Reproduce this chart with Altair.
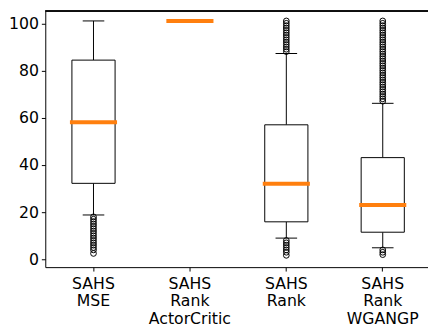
import altair as alt
import pandas as pd

cats = ["SAHS MSE", "SAHS Rank ActorCritic", "SAHS Rank", "SAHS Rank WGANGP"]
q1 = [32.2, 101, 15.9, 11.5]
med = [58.1, 101, 32.0, 23.0]
q3 = [84.4, 101, 57.0, 43.1]
lo = [18.8, 101, 9.0, 4.9]
hi = [101, 101, 87.2, 66.1]

out_mse = [2.5, 4, 5, 6, 7, 8, 9, 10, 11, 12, 13, 14, 15, 16, 17, 18]
out_rank = [1.7, 3, 4, 5, 6, 7, 8, 88, 89, 90, 91, 92, 93, 94, 95, 96, 97, 98, 99, 100, 101]
out_wgan = [2, 3, 4] + list(range(67, 102))

box = pd.DataFrame(dict(cat=cats, q1=q1, med=med, q3=q3, lo=lo, hi=hi))
outs = pd.DataFrame(dict(
    cat=[cats[0]] * len(out_mse) + [cats[2]] * len(out_rank) + [cats[3]] * len(out_wgan),
    v=out_mse + out_rank + out_wgan,
))

W, H = 390, 261
xenc = alt.X(
    "cat:N", sort=cats,
    scale=alt.Scale(range=[0, 393], paddingInner=0, paddingOuter=0),
    axis=alt.Axis(title=None, labelAngle=0, labelExpr="split(datum.label, ' ')",
                  labelLineHeight=17.5, labelPadding=5, tickSize=4,
                  labelBaseline="top"),
)
yscale = alt.Scale(domain=[-3.3, 105.2], nice=False, zero=False)
yaxis = alt.Axis(title=None, values=[0, 20, 40, 60, 80, 100], tickSize=4, labelPadding=3)

base = alt.Chart(box)
wlo = base.mark_rule(color="black", strokeWidth=1).encode(
    x=xenc, y=alt.Y("lo:Q", scale=yscale, axis=yaxis), y2="q1:Q")
whi = base.mark_rule(color="black", strokeWidth=1).encode(
    x=xenc, y=alt.Y("q3:Q", scale=yscale, axis=yaxis), y2="hi:Q")
rect = base.mark_bar(size=44, fill="white", stroke="black", strokeWidth=1).encode(
    x=xenc, y=alt.Y("q1:Q", scale=yscale, axis=yaxis), y2="q3:Q")
caplo = base.mark_tick(size=22, thickness=1, color="black", opacity=1).encode(
    x=xenc, y=alt.Y("lo:Q", scale=yscale, axis=yaxis))
caphi = base.mark_tick(size=22, thickness=1, color="black", opacity=1).encode(
    x=xenc, y=alt.Y("hi:Q", scale=yscale, axis=yaxis))
median = base.mark_tick(size=48, thickness=4, color="#ff7f0e", opacity=1).encode(
    x=xenc, y=alt.Y("med:Q", scale=yscale, axis=yaxis))
points = alt.Chart(outs).mark_point(shape="circle", size=34, filled=False,
                                    color="black", strokeWidth=1, opacity=1).encode(
    x=xenc, y=alt.Y("v:Q", scale=yscale, axis=yaxis))
top = alt.Chart(box).mark_rule(color="black", strokeWidth=1).encode(
    y=alt.value(0), x=alt.value(0), x2=alt.value(440))

chart = alt.layer(wlo, whi, rect, caplo, caphi, median, points, top).properties(
    width=W, height=H,
    autosize=alt.AutoSizeParams(type="none"),
    padding={"left": 38, "top": 0, "right": 0, "bottom": 62},
).configure_view(stroke=None).configure_axis(
    grid=False, domainColor="black", tickColor="black", labelColor="black",
    labelFont="DejaVu Sans", labelFontSize=16,
)

chart.save("out.html", embed_options={"renderer": "svg", "actions": False})
